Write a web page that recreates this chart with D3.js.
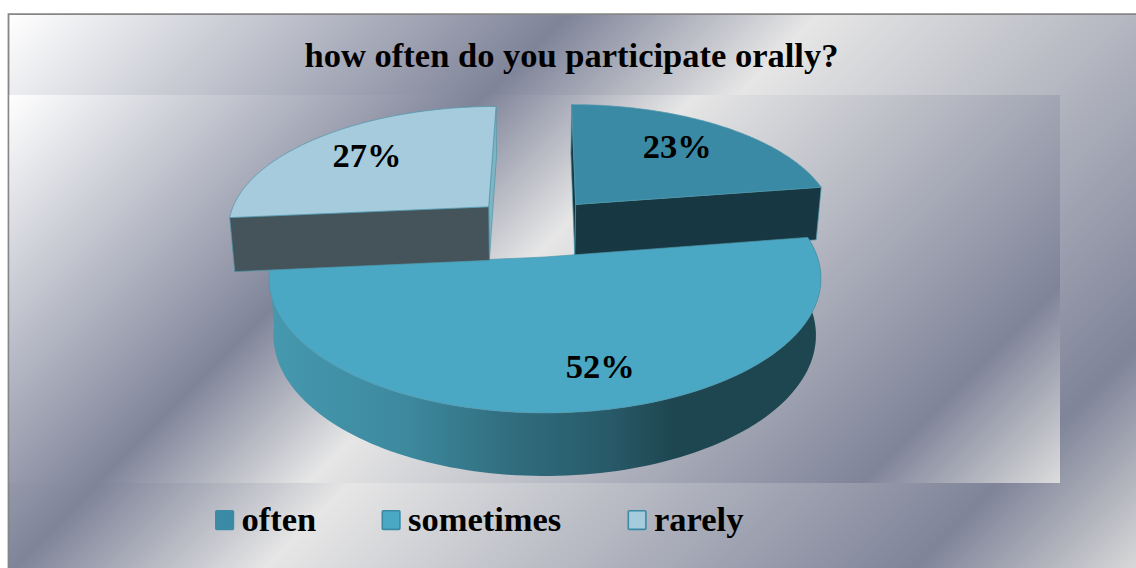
<!DOCTYPE html>
<html>
<head>
<meta charset="utf-8">
<script src="https://cdnjs.cloudflare.com/ajax/libs/d3/7.8.5/d3.min.js"></script>
<style>
  html, body { margin: 0; padding: 0; background: #fff; }
  svg { display: block; }
  text { font-family: "Liberation Serif", "Times New Roman", serif; font-weight: bold; fill: #000; }
</style>
</head>
<body>
<svg id="chart" width="1136" height="568"></svg>
<script>
// Chart content
const chartTitle = "how often do you participate orally?";
const categories = ["often", "sometimes", "rarely"];
const percentages = [23, 52, 27];

// Slice colours
const topColors = ["#3a8aa5", "#4aa8c4", "#a5cbdc"];
const cutColors = ["#173843", "#1e4650", "#45545b"];
const edgeColors = ["#173843", "#3d93aa", "#7fb4c4"];

// Steel-style diagonal backdrop stops: position along x + y, colour
const outerStops = [[22, "#ffffff"], [583, "#7f8499"], [833, "#e6e6e6"], [1483, "#7f8499"], [1704, "#d8d8d8"]];
const innerStops = [[104, "#ffffff"], [580, "#7f8499"], [790, "#e6e6e6"], [1345, "#7f8499"], [1543, "#dcdcdc"]];

// Tilted pie camera
const cam = { cx: 545, cy: 257, rx: 272.4, ry: 131, persp: 0.16, explode: 0.245, backShift: 0.009 };
const wall = { vanishX: 526.5, shrink: 0.983, depth: 54, depthRefY: 217, depthGrowth: 0.046 };

const svg = d3.select("#chart");
const defs = svg.append("defs");

function diagonalGradient(id, stops) {
  const span = stops[stops.length - 1][0];
  const g = defs.append("linearGradient").attr("id", id)
    .attr("gradientUnits", "userSpaceOnUse")
    .attr("x1", 0).attr("y1", 0).attr("x2", span / 2).attr("y2", span / 2);
  g.selectAll("stop").data(stops).join("stop")
    .attr("offset", d => d[0] / span)
    .attr("stop-color", d => d[1]);
}
diagonalGradient("outerFill", outerStops);
diagonalGradient("innerFill", innerStops);

// Shaded wall running round the front of the large slice
const wallShade = defs.append("linearGradient").attr("id", "wallShade")
  .attr("gradientUnits", "userSpaceOnUse").attr("x1", 272).attr("x2", 815).attr("y1", 0).attr("y2", 0);
wallShade.selectAll("stop")
  .data([[0, "#4598ae"], [0.24, "#3d8a9f"], [0.45, "#306c7d"], [0.62, "#285a69"], [0.74, "#1e4650"], [1, "#1e4650"]])
  .join("stop").attr("offset", d => d[0]).attr("stop-color", d => d[1]);

// Frame and plot backdrops
svg.append("rect").attr("x", 8).attr("y", 14).attr("width", 1128).attr("height", 554)
  .attr("fill", "url(#outerFill)");
svg.append("path").attr("d", "M8.5,568V14.2H1136").attr("fill", "none").attr("stroke", "#868686").attr("stroke-width", 1.8);
svg.append("rect").attr("x", 9.5).attr("y", 95).attr("width", 1050.5).attr("height", 388)
  .attr("fill", "url(#innerFill)");

// Pie plane to screen
function project(X, Y) {
  const w = 1 + cam.persp * Y;
  return { x: cam.cx + X * cam.rx / w, y: cam.cy - Y * cam.ry / w };
}
// Same point on the underside of the pie
function drop(p) {
  return {
    x: wall.vanishX + (p.x - wall.vanishX) * wall.shrink,
    y: p.y + wall.depth + (p.y - wall.depthRefY) * wall.depthGrowth
  };
}

const arcs = d3.pie().sort(null).startAngle(0).endAngle(2 * Math.PI)(percentages);
const mid = d => (d.startAngle + d.endAngle) / 2;
const anchorArc = arcs[1];

// Every slice slides out along its bisector, measured from the large slice
function sliceOffset(d) {
  return {
    X: cam.explode * (Math.sin(mid(d)) - Math.sin(mid(anchorArc))) - (d === anchorArc ? 0 : cam.backShift),
    Y: cam.explode * (Math.cos(mid(d)) - Math.cos(mid(anchorArc)))
  };
}
function rimPoint(d, angle, radius = 1) {
  const o = sliceOffset(d);
  return project(o.X + radius * Math.sin(angle), o.Y + radius * Math.cos(angle));
}
function rimPoints(d) {
  const steps = d3.range(0, 121).map(i => d.startAngle + (d.endAngle - d.startAngle) * i / 120);
  return steps.map(a => rimPoint(d, a));
}

const line = d3.line().x(p => p.x).y(p => p.y);
const closed = pts => line(pts) + "Z";
const center = d => rimPoint(d, 0, 0);

function drawSlice(d, i) {
  const g = svg.append("g").attr("class", "slice-" + categories[i]);
  const rim = rimPoints(d);
  const apex = center(d);
  const first = rim[0], last = rim[rim.length - 1];
  const stroke = { stroke: "#4f97ab", width: 0.7 };

  if (i === 1) {
    // Curved outer wall
    g.append("path").attr("d", closed(rim.concat(rim.map(drop).reverse())))
      .attr("fill", "url(#wallShade)");
  } else {
    // Cut faces on either side of the apex
    const startFace = [first, apex, drop(apex), drop(first)];
    const endFace = [last, apex, drop(apex), drop(last)];
    const [sideFace, frontFace] = i === 0 ? [startFace, endFace] : [endFace, startFace];
    g.append("path").attr("d", closed(sideFace)).attr("fill", edgeColors[i])
      .attr("stroke", stroke.stroke).attr("stroke-width", stroke.width);
    g.append("path").attr("d", closed(frontFace)).attr("fill", cutColors[i])
      .attr("stroke", stroke.stroke).attr("stroke-width", stroke.width);
  }
  g.append("path").attr("d", closed([apex].concat(rim))).attr("fill", topColors[i])
    .attr("stroke", stroke.stroke).attr("stroke-width", stroke.width);
}

// Back slice on the right first, the large slice over it, the left slice last
[0, 1, 2].forEach(i => drawSlice(arcs[i], i));

// Percentage labels, each sitting on its slice
const labelRadius = [0.66, 0.72, 0.6];
const labelNudge = [[2, -4], [28, 4.5], [-18, -7]];
svg.append("g").selectAll("text").data(arcs).join("text")
  .attr("text-anchor", "middle").attr("font-size", 34.5)
  .attr("x", (d, i) => rimPoint(d, mid(d), labelRadius[i]).x + labelNudge[i][0])
  .attr("y", (d, i) => rimPoint(d, mid(d), labelRadius[i]).y + labelNudge[i][1] + 11)
  .text((d, i) => percentages[i] + "%");

// Title
svg.append("text").attr("x", 571.5).attr("y", 67).attr("text-anchor", "middle")
  .attr("font-size", 34.5).text(chartTitle);

// Legend
const legendSwatchX = [215, 381.5, 627.5];
const legendStroke = ["#3f8ba5", "#3a8aa5", "#3a8aa5"];
const legend = svg.append("g").selectAll("g").data(categories).join("g")
  .attr("transform", (d, i) => `translate(${legendSwatchX[i]},0)`);
legend.append("rect").attr("x", 0.8).attr("y", 510.8).attr("width", 17.6).attr("height", 18.6).attr("rx", 1)
  .attr("fill", (d, i) => topColors[i]).attr("stroke", (d, i) => legendStroke[i]).attr("stroke-width", 1.6);
legend.append("text").attr("x", 26.5).attr("y", 531).attr("font-size", 34.5).text(d => d);
</script>
</body>
</html>
